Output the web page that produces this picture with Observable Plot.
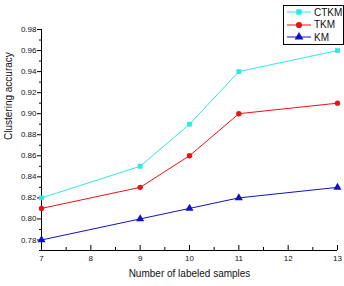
<!DOCTYPE html>
<html><head><meta charset="utf-8">
<script src="https://cdn.jsdelivr.net/npm/d3@7"></script>
<script src="https://cdn.jsdelivr.net/npm/@observablehq/plot@0.6"></script>
<style>
body{margin:0;background:#fff;font-family:"Liberation Sans",Arial,sans-serif;}
#wrap{position:relative;width:344px;height:286px;}
#legend{position:absolute;left:283px;top:5px;width:59px;height:38px;border:1px solid #000;background:#fff;font-size:10px;}
#legend .row{display:flex;align-items:center;height:12.5px;}
</style>
</head><body>
<div id="wrap"><div id="legend"></div></div>
<script>
const samples = [7, 9, 10, 11, 13];
const series = ["CTKM", "TKM", "KM"];
const ctkm = [0.82, 0.85, 0.89, 0.94, 0.96];
const tkm = [0.81, 0.83, 0.86, 0.90, 0.91];
const km = [0.78, 0.80, 0.81, 0.82, 0.83];
const xMajor = [7, 8, 9, 10, 11, 12, 13];
const xMinor = [7.5, 8.5, 9.5, 10.5, 11.5, 12.5];
const yMajor = [0.78, 0.80, 0.82, 0.84, 0.86, 0.88, 0.90, 0.92, 0.94, 0.96, 0.98];
const yMinor = [0.77, 0.79, 0.81, 0.83, 0.85, 0.87, 0.89, 0.91, 0.93, 0.95, 0.97];

const colors = {CTKM: "#2ee8e8", TKM: "#ee1111", KM: "#1010c8"};
const vals = {CTKM: ctkm, TKM: tkm, KM: km};
const rows = series.flatMap(s => samples.map((x, i) => ({s, x, y: vals[s][i]})));

const font = "Liberation Sans, Arial, sans-serif";
const chart = Plot.plot({
  width: 344, height: 286,
  marginLeft: 41, marginRight: 7, marginTop: 29, marginBottom: 36,
  style: {fontFamily: font, fontSize: "8px", background: "white"},
  x: {domain: [7, 13]},
  y: {domain: [0.77, 0.98]},
  marks: [
    Plot.ruleX([7], {y1: 0.77, y2: 0.98, stroke: "#000"}),
    Plot.ruleY([0.77], {x1: 7, x2: 13, stroke: "#000"}),
    Plot.axisY({ticks: yMajor, tickSize: 4, tickFormat: d3.format(".2f"), tickPadding: 1, label: null, fill: "#111"}),
    Plot.axisY({ticks: yMinor, tickSize: 2, tickFormat: () => "", label: null}),
    Plot.axisX({ticks: xMajor, tickSize: -5, tickPadding: 10, tickFormat: d3.format("d"), label: null, fill: "#111"}),
    Plot.axisX({ticks: xMinor, tickSize: -3, tickFormat: () => "", label: null}),
    Plot.line(rows, {x: "x", y: "y", z: "s", stroke: d => colors[d.s], strokeWidth: 1}),
    Plot.dot(rows.filter(d => d.s === "CTKM"), {x: "x", y: "y", symbol: "square", r: 2.7, fill: colors.CTKM}),
    Plot.dot(rows.filter(d => d.s === "TKM"), {x: "x", y: "y", symbol: "circle", r: 2.7, fill: colors.TKM}),
    Plot.dot(rows.filter(d => d.s === "KM"), {x: "x", y: "y", symbol: "triangle", r: 3, fill: colors.KM}),
    Plot.text(["Number of labeled samples"], {frameAnchor: "bottom", dy: 26, fontSize: 10, fill: "#111"}),
    Plot.text(["Clustering accuracy"], {frameAnchor: "left", dx: -33, rotate: -90, fontSize: 10, fill: "#111"})
  ]
});
document.getElementById("wrap").prepend(chart);
chart.style.position = "absolute"; chart.style.left = "0"; chart.style.top = "0";

const leg = document.getElementById("legend");
leg.style.zIndex = 2;
for (const s of series) {
  const row = document.createElement("div");
  row.className = "row";
  const sym = d3.symbol(s === "CTKM" ? d3.symbolSquare : s === "TKM" ? d3.symbolCircle : d3.symbolTriangle, s === "KM" ? 34 : 30)();
  row.innerHTML = `<svg width="27" height="12" style="margin-left:2px"><line x1="1" x2="25" y1="6" y2="6" stroke="${colors[s]}" stroke-width="1"/><path d="${sym}" transform="translate(13,6)" fill="${colors[s]}"/></svg><span style="margin-left:1px;color:#111">${s}</span>`;
  leg.appendChild(row);
}
</script>
</body></html>
